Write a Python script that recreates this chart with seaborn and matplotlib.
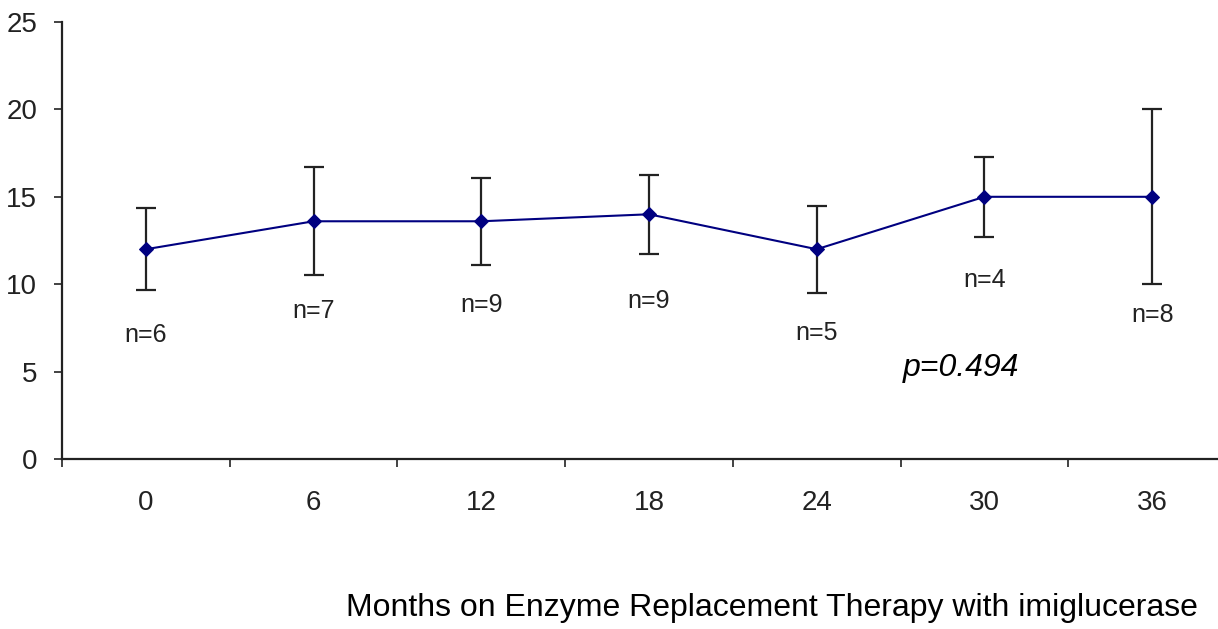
import numpy as np
import pandas as pd
import matplotlib as mpl
mpl.use('Agg')
import matplotlib.pyplot as plt
import seaborn as sns

# values
months = ['0', '6', '12', '18', '24', '30', '36']
means = [12.0, 13.6, 13.6, 14.0, 12.0, 15.0, 15.0]
errs = [2.35, 3.1, 2.5, 2.25, 2.5, 2.3, 5.0]
n_labels = ['n=6', 'n=7', 'n=9', 'n=9', 'n=5', 'n=4', 'n=8']
n_label_y = [7.1, 8.45, 8.8, 9.05, 7.2, 10.25, 8.25]
p_text = 'p=0.494'
x_title = 'Months on Enzyme Replacement Therapy with imiglucerase'

sns.set_theme(style='white')
plt.rcParams['font.family'] = ['Liberation Sans', 'DejaVu Sans']

df = pd.DataFrame({'pos': np.arange(len(months)), 'mean': means, 'err': errs})

fig = plt.figure(figsize=(12.18, 6.29), dpi=100)
ax = fig.add_axes([62 / 1218, 170 / 629, 1174 / 1218, 437 / 629])

ax.errorbar(df['pos'], df['mean'], yerr=df['err'], fmt='none', ecolor='#222222',
            elinewidth=1.6, capsize=7, capthick=1.6, zorder=2)
sns.lineplot(data=df, x='pos', y='mean', ax=ax, color='#000080', linewidth=1.5,
             marker='D', markersize=7, markeredgecolor='#000080', zorder=3)

for i, (lab, yy) in enumerate(zip(n_labels, n_label_y)):
    ax.text(i, yy, lab, ha='center', va='center', fontsize=18, color='#222222')

ax.text(4.86, 5.2, p_text, ha='center', va='center', fontsize=23, style='italic',
        color='black')

ax.set_xlim(-0.5, len(months) - 0.5)
ax.set_ylim(0, 25)
ax.set_yticks(range(0, 26, 5))
ax.set_yticklabels([str(v) for v in range(0, 26, 5)], fontsize=20, color='#222222')
ax.set_xticks(np.arange(-0.5, len(months), 1.0))
ax.set_xticklabels([])
ax.set_xticks(np.arange(len(months)), minor=True)
ax.set_xticklabels(months, minor=True, fontsize=20, color='#222222')
ax.tick_params(axis='x', which='major', direction='out', length=6, width=1.2,
               color='#222222', bottom=True)
ax.tick_params(axis='x', which='minor', length=0, pad=22, bottom=True)
ax.tick_params(axis='y', direction='out', length=6, width=1.2, color='#222222',
               left=True, pad=12)

for s in ['top', 'right']:
    ax.spines[s].set_visible(False)
for s in ['left', 'bottom']:
    ax.spines[s].set_color('#222222')
    ax.spines[s].set_linewidth(1.6)
ax.set_xlabel('')
ax.set_ylabel('')

fig.text(346 / 1218, 1 - 608 / 629, x_title, ha='left', va='center', fontsize=23,
         color='black')

fig.savefig('out.png', dpi=100)
